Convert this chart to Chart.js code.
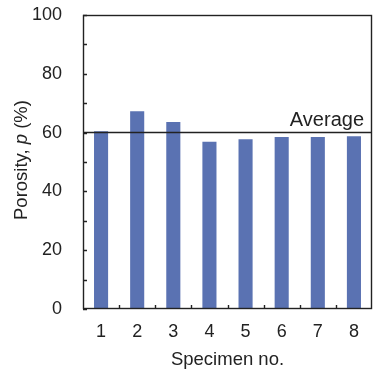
<!DOCTYPE html>
<html>
<head>
<meta charset="utf-8">
<script src="https://cdn.jsdelivr.net/npm/chart.js@4/dist/chart.umd.min.js"></script>
<style>
  html, body { margin: 0; padding: 0; background: #fff; }
  #wrap { position: relative; width: 375px; height: 372px; }
</style>
</head>
<body>
<div id="wrap"><canvas id="porosity-chart"></canvas></div>
<script>
// Porosity of each specimen, with the average drawn as a horizontal line
const specimens = ['1', '2', '3', '4', '5', '6', '7', '8'];
const porosity = [60.5, 67.3, 63.6, 56.9, 57.7, 58.5, 58.5, 58.8];
const averageValue = 60.2;
const yTicks = [0, 20, 40, 60, 80, 100];

const FONT = "'Liberation Sans', Arial, Helvetica, sans-serif";
const INK = '#222';

// frame, inward ticks, average line and the mixed-style y title
const decorations = {
    id: 'decorations',
    afterDatasetsDraw(chart) {
        const ctx = chart.ctx;
        const area = chart.chartArea;
        const x = chart.scales.x;
        const y = chart.scales.y;
        ctx.save();
        ctx.strokeStyle = INK;
        ctx.lineWidth = 1.4;

        // inward ticks on the y axis, minor ones included
        ctx.beginPath();
        for (let v = 0; v <= 100; v += 10) {
            const py = Math.round(y.getPixelForValue(v)) + 0.5;
            ctx.moveTo(area.left, py);
            ctx.lineTo(area.left + 4, py);
        }
        // inward ticks on the x axis, between categories
        const half = (x.getPixelForValue(1) - x.getPixelForValue(0)) / 2;
        for (let i = 0; i < specimens.length - 1; i++) {
            const px = Math.round(x.getPixelForValue(i) + half) + 0.5;
            ctx.moveTo(px, area.bottom);
            ctx.lineTo(px, area.bottom - 4);
        }
        ctx.stroke();

        // average line
        const ay = Math.round(y.getPixelForValue(averageValue)) + 0.5;
        ctx.beginPath();
        ctx.moveTo(area.left, ay);
        ctx.lineTo(area.right, ay);
        ctx.stroke();

        ctx.fillStyle = INK;
        ctx.font = '20px ' + FONT;
        ctx.textAlign = 'right';
        ctx.textBaseline = 'alphabetic';
        ctx.fillText('Average', area.right - 8, ay - 7);

        // frame
        ctx.strokeRect(area.left + 0.5, area.top + 0.5, area.right - area.left - 1, area.bottom - area.top - 1);

        // y axis title: "Porosity, p (%)" with italic p
        const parts = [
            { t: 'Porosity, ', f: '18.5px ' + FONT },
            { t: 'p', f: 'italic 18.5px ' + FONT },
            { t: ' (%)', f: '18.5px ' + FONT }
        ];
        let total = 0;
        parts.forEach(p => { ctx.font = p.f; p.w = ctx.measureText(p.t).width; total += p.w; });
        ctx.translate(22, (area.top + area.bottom) / 2 - 2);
        ctx.rotate(-Math.PI / 2);
        ctx.textAlign = 'left';
        ctx.textBaseline = 'middle';
        let cx = -total / 2;
        parts.forEach(p => { ctx.font = p.f; ctx.fillText(p.t, cx, 0); cx += p.w; });
        ctx.restore();
    }
};

new Chart(document.getElementById('porosity-chart'), {
    type: 'bar',
    data: {
        labels: specimens,
        datasets: [{
            data: porosity,
            backgroundColor: '#5a72b2',
            borderWidth: 0,
            barPercentage: 0.39,
            categoryPercentage: 1.0
        }]
    },
    options: {
        responsive: true,
        maintainAspectRatio: false,
        animation: false,
        layout: { padding: { left: 0, right: 3, top: 15, bottom: 0 } },
        plugins: {
            legend: { display: false },
            tooltip: { enabled: false }
        },
        scales: {
            x: {
                grid: { display: false, drawTicks: false },
                border: { display: false },
                ticks: { color: INK, font: { family: FONT, size: 18 }, padding: 12, maxRotation: 0 },
                title: {
                    display: true,
                    text: 'Specimen no.',
                    color: INK,
                    font: { family: FONT, size: 18.5 },
                    padding: { top: 0, bottom: 1 }
                },
                afterFit(scale) {
                    scale.height = 63;
                    scale.paddingLeft = 0;
                    scale.paddingRight = 0;
                }
            },
            y: {
                min: 0,
                max: 100,
                afterBuildTicks(scale) { scale.ticks = yTicks.map(v => ({ value: v })); },
                grid: { display: false, drawTicks: false },
                border: { display: false },
                ticks: { color: INK, font: { family: FONT, size: 18 }, padding: 21 },
                afterFit(scale) {
                    scale.width = 83;
                    scale.paddingTop = 0;
                    scale.paddingBottom = 0;
                }
            }
        }
    },
    plugins: [decorations]
});
</script>
</body>
</html>
